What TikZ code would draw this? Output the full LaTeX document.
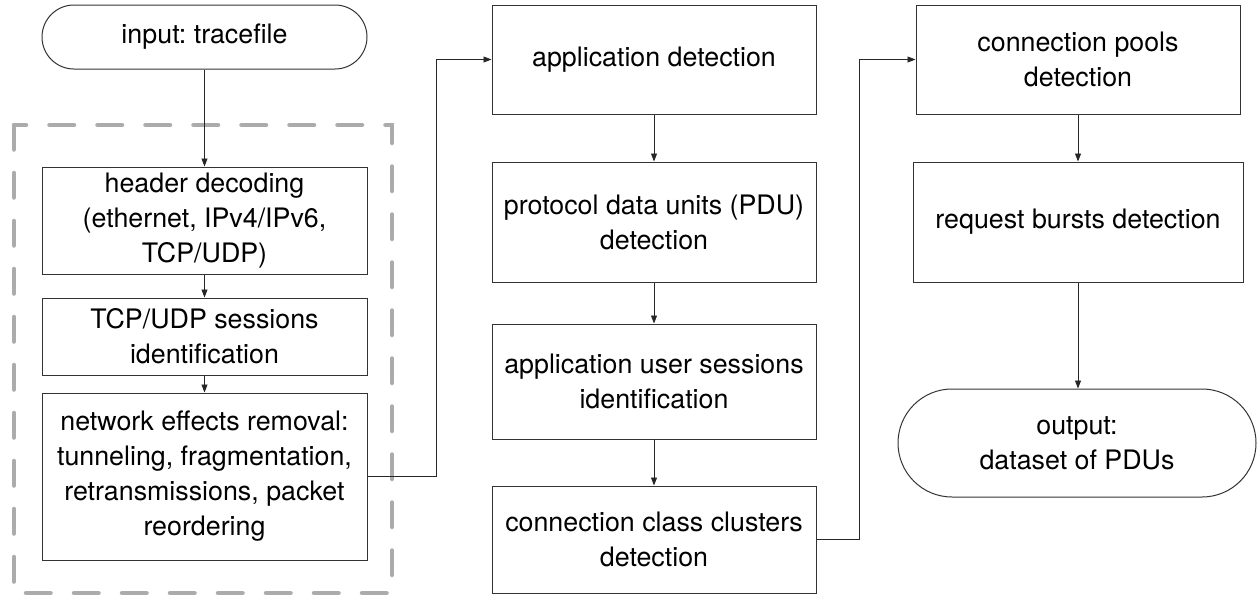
\documentclass[tikz,border=0pt]{standalone}
\usepackage{fontspec}
\setmainfont{TeX Gyre Heros}
\usetikzlibrary{arrows.meta}
\frenchspacing
\begin{document}
\begin{tikzpicture}[x=1pt,y=-1pt,
  every node/.style={font=\fontsize{26.8}{35}\selectfont, align=center, inner sep=0pt},
  stepbox/.style={draw=black!80, line width=1pt, rectangle},
  termbox/.style={draw=black!80, line width=1pt, rectangle, rounded corners=#1},
  arr/.style={line width=0.9pt, draw=black!85, -{Triangle[length=8pt,width=6pt]}},
  group/.style={draw=black!33, line width=4.5pt, line cap=round, dash pattern=on 24.5pt off 23.5pt}
]
\useasboundingbox (0,0) rectangle (1257,597);
% group frame
\draw[group] (14,125) rectangle (392,593);
% left column
\node[termbox=32pt, minimum width=325pt, minimum height=64pt] (in) at (204.5,37) {input: tracefile};
\node[stepbox, minimum width=325pt, minimum height=107pt] (hd) at (204.5,220.5) {header decoding\\(ethernet, IPv4/IPv6,\\TCP/UDP)};
\node[stepbox, minimum width=325pt, minimum height=77pt] (tcp) at (204.5,336.5) {TCP/UDP sessions\\identification};
\node[stepbox, minimum width=325pt, minimum height=167pt] (net) at (204.5,476.5) {network effects removal:\\tunneling, fragmentation,\\retransmissions, packet\\reordering};
% middle column
\node[stepbox, minimum width=324pt, minimum height=109pt] (app) at (654,59.5) {application detection};
\node[stepbox, minimum width=324pt, minimum height=120pt] (pdu) at (654,222) {protocol data units (PDU)\\detection};
\node[stepbox, minimum width=324pt, minimum height=115pt] (aus) at (654,381.5) {application user sessions\\identification};
\node[stepbox, minimum width=324pt, minimum height=107pt] (ccc) at (654,539.5) {connection class clusters\\detection};
% right column
\node[stepbox, minimum width=324pt, minimum height=109pt] (cp) at (1078,59.5) {connection pools\\detection};
\node[stepbox, minimum width=330pt, minimum height=120pt] (rb) at (1078,222) {request bursts detection};
\node[termbox=54pt, minimum width=358pt, minimum height=108pt] (out) at (1077,443) {output:\\dataset of PDUs};
% connectors
\draw[arr] (in) -- (hd);
\draw[arr] (hd) -- (tcp);
\draw[arr] (tcp) -- (net);
\draw[arr] (net.east) -- ++(69,0) |- (app.west);
\draw[arr] (app) -- (pdu);
\draw[arr] (pdu) -- (aus);
\draw[arr] (aus) -- (ccc);
\draw[arr] (ccc.east) -- ++(43,0) |- (cp.west);
\draw[arr] (cp) -- (rb);
\draw[arr] (rb.south) -- (rb.south |- out.north);
\end{tikzpicture}
\end{document}
